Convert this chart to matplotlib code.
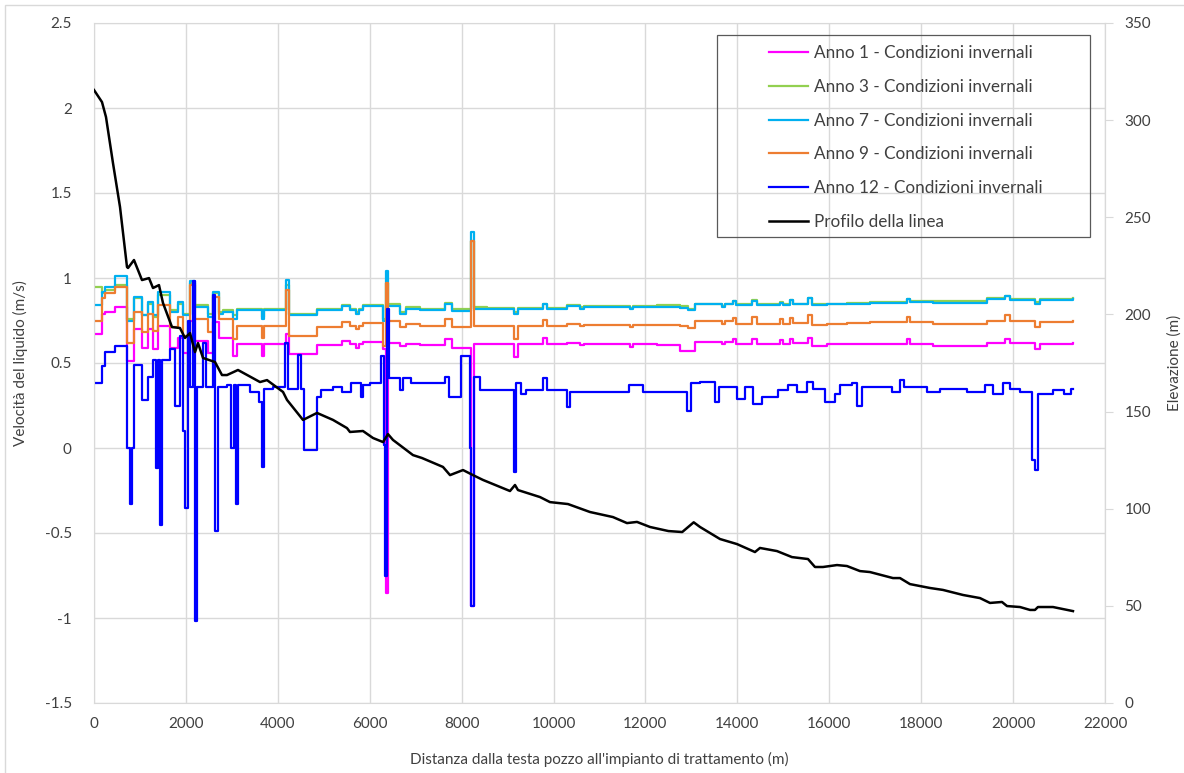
import matplotlib.pyplot as plt
from matplotlib.patches import Rectangle
from matplotlib.ticker import FuncFormatter, MultipleLocator

plt.rcParams['font.family'] = ['Lato', 'DejaVu Sans']
plt.rcParams['axes.unicode_minus'] = False

# Progressive (m) where the pipe sections change
dist_sez = [0, 170, 240, 460, 720, 870, 1045, 1175, 1285, 1390, 1655, 1830, 1935,
            2090, 2200, 2480, 2590, 2720, 2810, 3025, 3110, 3655, 3700, 4180, 4245,
            4850, 5400, 5570, 5700, 5770, 5855, 6290, 6355, 6400, 6660, 6790, 7095,
            7640, 7790, 8205, 8270, 8550, 9140, 9225, 9770, 9860, 10290, 10575, 10660,
            11665, 11730, 12250, 12750, 12925, 13080, 13665, 13730, 13905, 13970, 14320,
            14430, 14930, 14995, 15145, 15210, 15535, 15625, 15950, 16385, 16885, 17690,
            17755, 18255, 19430, 19825, 19930, 20475, 20585, 21300]

vel_anno1 = [0.67, 0.79, 0.80, 0.83, 0.51, 0.70, 0.59, 0.70, 0.58, 0.72, 0.59, 0.65, 0.56,
             0.75, 0.63, 0.56, 0.74, 0.65, 0.65, 0.54, 0.61, 0.54, 0.61, 0.67, 0.555,
             0.605, 0.63, 0.61, 0.59, 0.61, 0.625, 0.58, -0.85, 0.62, 0.60, 0.61, 0.605,
             0.64, 0.59, -0.93, 0.61, 0.61, 0.535, 0.61, 0.65, 0.61, 0.615, 0.605, 0.61,
             0.595, 0.61, 0.605, 0.57, 0.57, 0.625, 0.61, 0.625, 0.64, 0.61, 0.64,
             0.61, 0.635, 0.61, 0.64, 0.615, 0.65, 0.60, 0.61, 0.61, 0.61, 0.64,
             0.61, 0.60, 0.615, 0.64, 0.615, 0.58, 0.61, 0.62]

vel_anno3 = [0.95, 0.91, 0.93, 0.96, 0.76, 0.88, 0.78, 0.85, 0.77, 0.90, 0.81, 0.85, 0.79,
             0.97, 0.84, 0.79, 0.91, 0.80, 0.81, 0.78, 0.82, 0.77, 0.82, 0.96, 0.79,
             0.82, 0.84, 0.82, 0.80, 0.82, 0.84, 0.76, 0.97, 0.845, 0.80, 0.83, 0.82,
             0.855, 0.815, 1.22, 0.83, 0.825, 0.80, 0.825, 0.85, 0.825, 0.84, 0.83, 0.835,
             0.825, 0.835, 0.84, 0.835, 0.82, 0.85, 0.835, 0.85, 0.865, 0.845, 0.87,
             0.845, 0.86, 0.845, 0.87, 0.85, 0.88, 0.845, 0.85, 0.855, 0.86, 0.875,
             0.865, 0.865, 0.88, 0.895, 0.875, 0.86, 0.875, 0.88]

vel_anno7 = [0.84, 0.92, 0.95, 1.01, 0.75, 0.89, 0.78, 0.86, 0.78, 0.92, 0.80, 0.86, 0.78,
             0.98, 0.83, 0.77, 0.92, 0.79, 0.80, 0.76, 0.81, 0.76, 0.81, 0.99, 0.78,
             0.81, 0.835, 0.81, 0.79, 0.81, 0.835, 0.75, 1.04, 0.835, 0.79, 0.82, 0.81,
             0.85, 0.805, 1.27, 0.82, 0.815, 0.79, 0.815, 0.845, 0.815, 0.835, 0.82, 0.83,
             0.815, 0.83, 0.83, 0.825, 0.81, 0.847, 0.83, 0.845, 0.865, 0.84, 0.865,
             0.84, 0.855, 0.84, 0.87, 0.845, 0.88, 0.84, 0.845, 0.85, 0.855, 0.875,
             0.86, 0.855, 0.875, 0.895, 0.87, 0.85, 0.87, 0.875]

vel_anno9 = [0.75, 0.88, 0.91, 0.95, 0.62, 0.80, 0.68, 0.79, 0.69, 0.84, 0.71, 0.77, 0.66,
             0.96, 0.76, 0.68, 0.89, 0.76, 0.76, 0.64, 0.72, 0.65, 0.72, 0.93, 0.66,
             0.71, 0.74, 0.72, 0.70, 0.72, 0.735, 0.60, 0.97, 0.745, 0.71, 0.73, 0.72,
             0.76, 0.71, 1.22, 0.72, 0.72, 0.64, 0.72, 0.755, 0.72, 0.73, 0.72, 0.725,
             0.71, 0.725, 0.725, 0.72, 0.705, 0.745, 0.73, 0.745, 0.765, 0.73, 0.77,
             0.73, 0.76, 0.73, 0.765, 0.735, 0.78, 0.725, 0.73, 0.735, 0.74, 0.77,
             0.74, 0.73, 0.745, 0.78, 0.745, 0.71, 0.74, 0.75]

dist_anno12 = [0, 170, 240, 460, 720, 780, 830, 870, 1045, 1175, 1285, 1360, 1400, 1440,
               1480, 1655, 1760, 1870, 1935, 1990, 2040, 2090, 2160, 2205, 2245, 2380,
               2430, 2590, 2640, 2690, 2900, 2980, 3040, 3090, 3140, 3400, 3600, 3655,
               3700, 3900, 4150, 4230, 4450, 4500, 4560, 4850, 4950, 5200, 5400, 5600,
               5800, 5850, 6000, 6250, 6300, 6340, 6375, 6420, 6650, 6730, 6900, 7640,
               7720, 7990, 8180, 8210, 8260, 8400, 9130, 9190, 9300, 9400, 9770, 9860,
               10300, 10360, 11650, 11950, 12900, 13000, 13190, 13513, 13600, 13992,
               14170, 14340, 14536, 14884, 15101, 15300, 15515, 15646, 15907, 16124,
               16233, 16494, 16603, 16712, 17365, 17539, 17620, 18126, 18400, 18996,
               19388, 19562, 19780, 19932, 20150, 20411, 20476, 20541, 20868, 21100,
               21250, 21303]

vel_anno12 = [0.38, 0.48, 0.565, 0.60, 0.0, -0.33, 0.0, 0.49, 0.28, 0.42, 0.52, -0.12, 0.52, -0.45,
              0.52, 0.58, 0.25, 0.66, 0.10, -0.35, 0.75, 0.36, 0.98, -1.02, 0.36, 0.62,
              0.36, 0.90, -0.49, 0.36, 0.37, 0.0, 0.37, -0.33, 0.37, 0.33, 0.27, -0.11,
              0.35, 0.36, 0.62, 0.35, 0.55, 0.35, -0.01, 0.30, 0.34, 0.36, 0.33, 0.38,
              0.30, 0.37, 0.38, 0.54, 0.02, -0.75, 0.82, 0.41, 0.34, 0.41, 0.38, 0.42,
              0.30, 0.54, 0.0, -0.93, 0.42, 0.34, -0.14, 0.38, 0.32, 0.34, 0.41, 0.34,
              0.24, 0.33, 0.37, 0.33, 0.22, 0.38, 0.39, 0.27, 0.36, 0.29,
              0.36, 0.26, 0.30, 0.34, 0.37, 0.33, 0.39, 0.35, 0.27, 0.32,
              0.37, 0.38, 0.25, 0.36, 0.33, 0.40, 0.36, 0.33, 0.35, 0.33,
              0.37, 0.32, 0.38, 0.35, 0.33, -0.07, -0.13, 0.32, 0.34, 0.32,
              0.35, 0.35]

# Ground profile along the line
dist_profilo = [0, 174, 261, 413, 566, 718, 740, 870, 1044, 1197, 1284, 1414, 1501, 1697,
                1871, 1980, 2089, 2198, 2263, 2372, 2633, 2785, 2894, 3133, 3612, 3765,
                4113, 4200, 4548, 4853, 5201, 5505, 5570, 5853, 6071, 6289, 6397, 6506,
                6941, 7137, 7594, 7747, 8030, 8247, 8465, 9052, 9161, 9226, 9705, 9923,
                10314, 10793, 11293, 11598, 11816, 12099, 12500, 12800, 13050, 13187,
                13622, 13992, 14383, 14492, 14862, 15188, 15537, 15689, 15863, 16168,
                16385, 16668, 16886, 17386, 17539, 17756, 18191, 18474, 18910, 19280,
                19497, 19758, 19867, 20150, 20368, 20476, 20541, 20868, 21303]
quota = [315.5, 309.3, 301.6, 277.9, 255.3, 224.4, 223.9, 228.0, 217.7, 218.7, 213.6, 215.1,
         205.9, 193.5, 193.0, 187.9, 190.4, 180.6, 185.3, 177.6, 175.5, 168.8, 168.8, 171.4,
         165.2, 166.2, 160.1, 156.0, 145.7, 149.3, 145.7, 141.5, 139.5, 140.0, 136.4, 134.3,
         138.4, 135.4, 127.6, 126.1, 121.5, 117.3, 119.9, 117.3, 114.8, 109.1, 112.2, 109.6,
         106.0, 103.4, 102.4, 98.3, 95.7, 92.6, 93.2, 90.6, 88.5, 88.0, 93.0, 90.6,
         84.4, 81.8, 77.7, 79.8, 78.2, 75.1, 74.1, 70.0, 70.0, 71.0, 70.5, 67.9, 67.4,
         64.3, 64.3, 61.2, 59.2, 58.2, 55.6, 54.0, 51.5, 52.0, 49.9, 49.4, 47.9, 47.9,
         49.4, 49.4, 47.3]

fig = plt.figure(figsize=(11.84, 7.73), dpi=100)
ax = fig.add_axes([94 / 1184, 70 / 773, 1011 / 1184, 680 / 773])
ax2 = ax.twinx()

grid_col = '#D9D9D9'
txt_col = '#404040'

# velocity series
serie = [
    (vel_anno1, '#FF00FF', 'Anno 1 - Condizioni invernali'),
    (vel_anno3, '#92D050', 'Anno 3 - Condizioni invernali'),
    (vel_anno7, '#00B0F0', 'Anno 7 - Condizioni invernali'),
    (vel_anno9, '#ED7D31', 'Anno 9 - Condizioni invernali'),
]
handles = []
for vals, col, lab in serie:
    h, = ax.plot(dist_sez, vals, color=col, lw=1.6, drawstyle='steps-post', label=lab)
    handles.append(h)
h, = ax.plot(dist_anno12, vel_anno12, color='#0000FF', lw=1.6, drawstyle='steps-post',
             label='Anno 12 - Condizioni invernali')
handles.append(h)

h, = ax2.plot(dist_profilo, quota, color='black', lw=1.8, label='Profilo della linea')
handles.append(h)

# axes limits and ticks
ax.set_xlim(0, 22000)
ax.set_ylim(-1.5, 2.5)
ax.xaxis.set_major_locator(MultipleLocator(2000))
ax.yaxis.set_major_locator(MultipleLocator(0.5))
ax.yaxis.set_major_formatter(FuncFormatter(lambda v, p: f'{v:g}'))
ax2.set_ylim(0, 350)
ax2.yaxis.set_major_locator(MultipleLocator(50))

ax.grid(True, color=grid_col, lw=1.0)
ax.set_axisbelow(True)
for sp in ax.spines.values():
    sp.set_color(grid_col)
for sp in ax2.spines.values():
    sp.set_visible(False)
ax2.spines['right'].set_visible(True)
ax2.spines['right'].set_color(grid_col)

ax.tick_params(axis='both', length=0, labelsize=11, labelcolor=txt_col)
ax.tick_params(axis='x', pad=10)
ax.tick_params(axis='y', pad=16)
ax2.tick_params(axis='y', length=6, color=grid_col, labelsize=11, labelcolor=txt_col, pad=8)

ax.set_xlabel("Distanza dalla testa pozzo all'impianto di trattamento (m)", fontsize=11,
              color=txt_col, labelpad=15)
ax.set_ylabel('Velocità del liquido (m/s)', fontsize=11, color=txt_col, labelpad=12)
ax2.set_ylabel('Elevazione (m)', fontsize=11, color=txt_col, labelpad=12)

# legend: text block placed inside a separate frame
leg = ax2.legend(handles=handles, loc='upper left',
                 bbox_to_anchor=(769 / 1184, 1 - 45 / 773), bbox_transform=fig.transFigure,
                 fontsize=12.3, frameon=False, handlelength=2.3, handletextpad=0.35,
                 labelspacing=1.04, borderpad=0, borderaxespad=0)
for t in leg.get_texts():
    t.set_color(txt_col)
fig.patches.append(Rectangle((717 / 1184, 1 - 237 / 773), 373 / 1184, 202 / 773,
                             transform=fig.transFigure, fill=False,
                             edgecolor='#595959', lw=0.9, zorder=5))

# chart area border
fig.patches.append(Rectangle((5 / 1184, -0.05), 1.1, 1.05 - 5 / 773, transform=fig.transFigure,
                             fill=False, edgecolor=grid_col, lw=1.0))

plt.savefig('out.png', dpi=100)
